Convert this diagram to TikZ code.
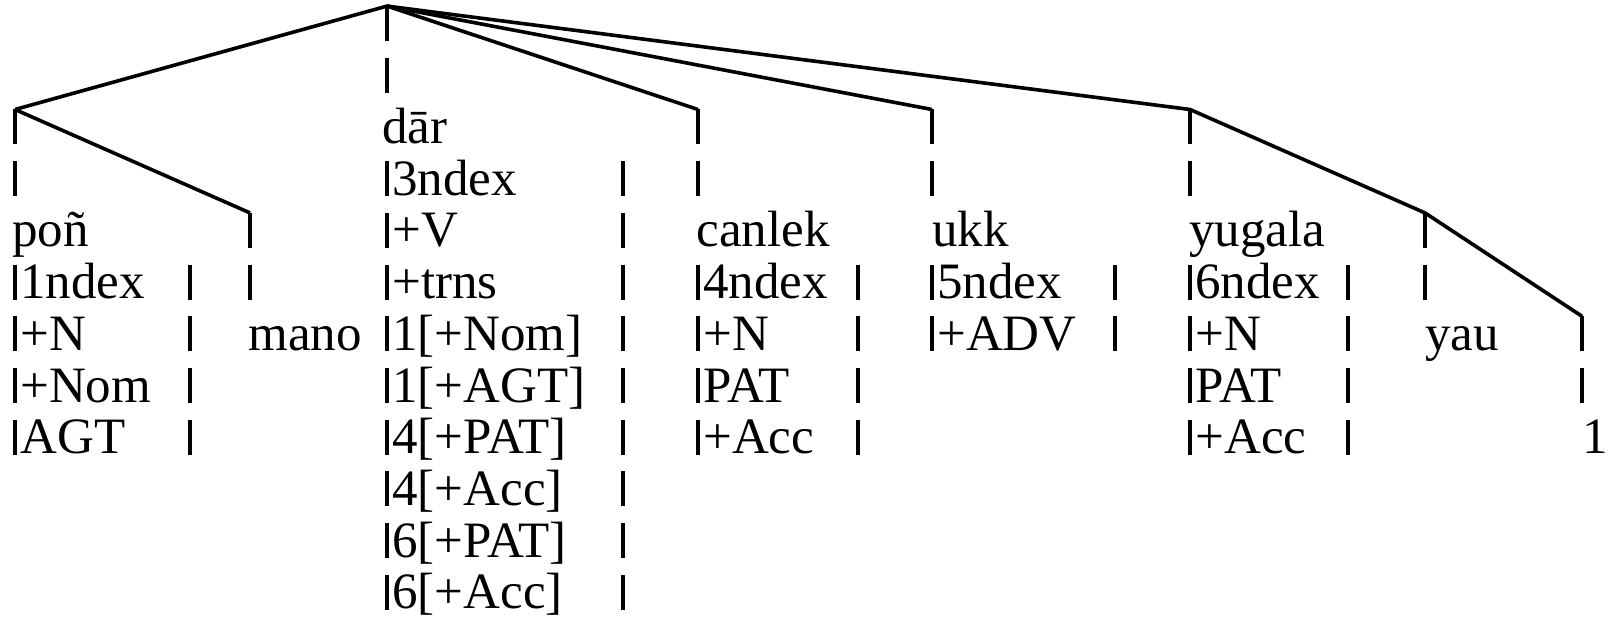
\documentclass[tikz,border=0pt]{standalone}
\usepackage{fontspec}
\setmainfont{Liberation Serif}
\newcommand\rowbase[1]{143.5+51.7*(#1)}
\tikzset{
  tree/.style={line width=1.8pt, line join=miter},
  vbar/.style={line width=2.1pt},
  lab/.style={anchor=base west, inner sep=0pt, font=\fontsize{25.5}{30}\selectfont},
}
% bar at column x, row r
\newcommand\vbr[2]{\draw[vbar] (#1,{\rowbase{#2}-34}) -- (#1,{\rowbase{#2}+1});}
% bar followed by text: name, x, row, text
\newcommand\bartext[4]{\vbr{#2}{#3}\node[lab] (#1) at ({#2+5},{\rowbase{#3}}) {#4};}
% word without bar: name, x, row, text
\newcommand\wordat[4]{\node[lab] (#1) at ({#2-3},{\rowbase{#3}}) {#4};}
\begin{document}
\begin{tikzpicture}[x=0.5pt,y=-0.5pt]
\fill[white] (0,0) rectangle (1617,620);
\useasboundingbox (0,0) rectangle (1617,620);

% tree vertices (tops of stems)
\coordinate (root) at (387,{\rowbase{-2}-34});
\coordinate (vpon) at (15,{\rowbase{0}-34});
\coordinate (vmano) at (250,{\rowbase{2}-34});
\coordinate (vcan) at (698,{\rowbase{0}-34});
\coordinate (vukk) at (932,{\rowbase{0}-34});
\coordinate (vyug) at (1190,{\rowbase{0}-34});
\coordinate (vyau) at (1425,{\rowbase{2}-34});
\coordinate (vone) at (1582,{\rowbase{4}-34});

\draw[tree] (vpon) -- (root) -- (vcan);
\draw[tree] (root) -- (vukk);
\draw[tree] (root) -- (vyug) -- (vyau) -- (vone);
\draw[tree] (vpon) -- (vmano);

% column pon
\vbr{15}{0}\vbr{15}{1}
\wordat{pon}{15}{2}{poñ}
\bartext{pon1}{15}{3}{1ndex}
\bartext{pon2}{15}{4}{+N}
\bartext{pon3}{15}{5}{+Nom}
\bartext{pon4}{15}{6}{AGT}
\vbr{190}{3}\vbr{190}{4}\vbr{190}{5}\vbr{190}{6}

% column mano
\vbr{250}{2}\vbr{250}{3}
\wordat{mano}{251}{4}{mano}

% column dar
\vbr{387}{-2}\vbr{387}{-1}
\wordat{dar}{385}{0}{dār}
\bartext{dar1}{387}{1}{3ndex}
\bartext{dar2}{387}{2}{+V}
\bartext{dar3}{387}{3}{+trns}
\bartext{dar4}{387}{4}{1[+Nom]}
\bartext{dar5}{387}{5}{1[+AGT]}
\bartext{dar6}{387}{6}{4[+PAT]}
\bartext{dar7}{387}{7}{4[+Acc]}
\bartext{dar8}{387}{8}{6[+PAT]}
\bartext{dar9}{387}{9}{6[+Acc]}
\foreach \r in {1,...,9} {\vbr{623}{\r}}

% column canlek
\vbr{698}{0}\vbr{698}{1}
\wordat{canlek}{699}{2}{canlek}
\bartext{can1}{698}{3}{4ndex}
\bartext{can2}{698}{4}{+N}
\bartext{can3}{698}{5}{PAT}
\bartext{can4}{698}{6}{+Acc}
\foreach \r in {3,...,6} {\vbr{858}{\r}}

% column ukk
\vbr{932}{0}\vbr{932}{1}
\wordat{ukk}{935}{2}{ukk}
\bartext{ukk1}{932}{3}{5ndex}
\bartext{ukk2}{932}{4}{+ADV}
\vbr{1115}{3}\vbr{1115}{4}

% column yugala
\vbr{1190}{0}\vbr{1190}{1}
\wordat{yugala}{1192}{2}{yugala}
\bartext{yug1}{1190}{3}{6ndex}
\bartext{yug2}{1190}{4}{+N}
\bartext{yug3}{1190}{5}{PAT}
\bartext{yug4}{1190}{6}{+Acc}
\foreach \r in {3,...,6} {\vbr{1348}{\r}}

% column yau
\vbr{1425}{2}\vbr{1425}{3}
\wordat{yau}{1428}{4}{yau}

% column 1
\vbr{1582}{4}\vbr{1582}{5}
\wordat{one}{1585}{6}{1}
\end{tikzpicture}
\end{document}
